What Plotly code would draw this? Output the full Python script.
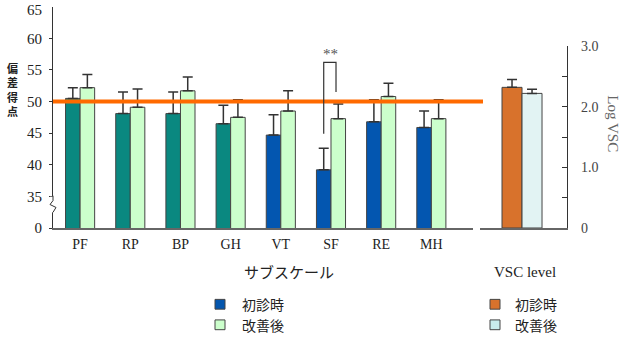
import plotly.graph_objects as go

W, H = 620, 338
ML, MR, MT, MB = 0, 0, 2, 110
PH = H - MT - MB

categories = ["PF", "RP", "BP", "GH", "VT", "SF", "RE", "MH"]
initial = [50.5, 48.1, 48.1, 46.5, 44.7, 39.2, 46.8, 45.9]
initial_err = [1.7, 3.4, 3.4, 2.9, 3.2, 3.4, 3.5, 2.6]
improved = [52.2, 49.1, 51.7, 47.5, 48.5, 47.3, 50.8, 47.3]
improved_err = [2.1, 2.9, 2.2, 2.8, 3.2, 2.3, 2.1, 3.0]
initial_colors = ["#0a8880"] * 4 + ["#0356b0"] * 4

vsc_label = ["VSC"]
vsc_initial = [2.32]
vsc_initial_err = [0.13]
vsc_improved = [2.22]
vsc_improved_err = [0.07]

left_ticks = [30, 35, 40, 45, 50, 55, 60]
left_ticktext = ["0", "35", "40", "45", "50", "55", "60"]
right_ticks = [0, 0.5, 1, 1.5, 2, 2.5, 3]
right_ticktext = ["0", "", "1.0", "", "2.0", "", "3.0"]
reference_value = 50
sig_pair = ("SF", 44.9, 56.2, 51.5)


def px(x):
    return x / W


def py(y):
    return (H - MB - y) / PH


serif = "Liberation Serif"
jp = "Noto Sans CJK JP"
edge = dict(color="#444", width=1)
errstyle = dict(color="#333", thickness=1.5, width=5)

fig = go.Figure()
fig.add_bar(x=categories, y=initial, width=0.29, offset=-0.29,
            marker=dict(color=initial_colors, line=edge),
            error_y=dict(type="data", symmetric=False, array=initial_err,
                         arrayminus=[0] * len(initial), **errstyle),
            xaxis="x", yaxis="y", showlegend=False)
fig.add_bar(x=categories, y=improved, width=0.29, offset=0,
            marker=dict(color="#ccffcc", line=edge),
            error_y=dict(type="data", symmetric=False, array=improved_err,
                         arrayminus=[0] * len(improved), **errstyle),
            xaxis="x", yaxis="y", showlegend=False)
fig.add_bar(x=vsc_label, y=vsc_initial, width=0.46, offset=-0.46,
            marker=dict(color="#d8722c", line=edge),
            error_y=dict(type="data", symmetric=False, array=vsc_initial_err,
                         arrayminus=[0], **errstyle),
            xaxis="x2", yaxis="y2", showlegend=False)
fig.add_bar(x=vsc_label, y=vsc_improved, width=0.46, offset=0,
            marker=dict(color="#e2f3f3", line=edge),
            error_y=dict(type="data", symmetric=False, array=vsc_improved_err,
                         arrayminus=[0], **errstyle),
            xaxis="x2", yaxis="y2", showlegend=False)

fig.update_layout(
    width=W, height=H, autosize=False,
    margin=dict(l=ML, r=MR, t=MT, b=MB),
    paper_bgcolor="white", plot_bgcolor="white",
    barmode="overlay",
    xaxis=dict(domain=[px(53), px(473)], range=[-0.54, 7.83], anchor="y",
               showline=True, linecolor="#666", linewidth=1.5, showgrid=False,
               zeroline=False, ticks="", ticklabelstandoff=2,
               tickfont=dict(family=serif, size=14, color="#222")),
    yaxis=dict(domain=[0, 1], range=[30, 30 + PH / 6.465], anchor="x",
               showline=True, linecolor="#333", linewidth=1, showgrid=False,
               zeroline=False, tickvals=left_ticks, ticktext=left_ticktext,
               ticks="outside", ticklen=3, tickcolor="#333", ticklabelstandoff=4,
               tickfont=dict(family=serif, size=15, color="#222")),
    xaxis2=dict(domain=[px(480), px(567)], range=[-0.966, 1.034], anchor="y2",
                showline=True, linecolor="#666", linewidth=1.5, showgrid=False,
                zeroline=False, showticklabels=False, ticks=""),
    yaxis2=dict(domain=[0, py(42)], range=[0, 3], anchor="x2", side="right",
                showline=True, linecolor="#333", linewidth=1.2, showgrid=False,
                zeroline=False, tickvals=right_ticks, ticktext=right_ticktext,
                ticks="inside", ticklen=5, tickcolor="#333", ticklabelstandoff=10,
                tickfont=dict(family=serif, size=14, color="#444")),
    font=dict(family=serif),
)

shapes = []
# reference line
shapes.append(dict(type="line", xref="paper", yref="y", x0=px(53), x1=px(483),
                   y0=reference_value, y1=reference_value,
                   line=dict(color="#ff6a00", width=4), layer="above"))
# axis break
shapes.append(dict(type="rect", xref="paper", yref="paper", x0=px(50), x1=px(56),
                   y0=py(212), y1=py(196), fillcolor="white", line=dict(width=0),
                   layer="above"))
shapes.append(dict(type="path", xref="paper", yref="paper",
                   path="M {} {} L {} {} L {} {} L {} {} L {} {}".format(
                       px(53), py(195), px(53), py(200), px(50), py(204),
                       px(56), py(207), px(53), py(212)),
                   line=dict(color="#333", width=1), layer="above"))
# significance bracket
si = categories.index(sig_pair[0])
xl, xr = si - 0.145, si + 0.10
shapes.append(dict(type="path", xref="x", yref="y",
                   path="M {} {} L {} {} L {} {} L {} {}".format(
                       xl, sig_pair[1], xl, sig_pair[2], xr, sig_pair[2], xr, sig_pair[3]),
                   line=dict(color="#333", width=1.2), layer="above"))
# legend squares
for cx, cy, col in [(220, 306, "#0456ad"), (220, 327, "#ccffcc"),
                    (495, 306, "#d8722c"), (495, 327, "#c8ecec")]:
    shapes.append(dict(type="rect", xref="paper", yref="paper",
                       x0=px(cx - 5), x1=px(cx + 5), y0=py(cy + 5), y1=py(cy - 5),
                       fillcolor=col, line=dict(color="#444", width=1)))
fig.update_layout(shapes=shapes)

ann = []


def text(x, y, s, size=14, family=jp, color="#222", xanchor="center", angle=0):
    ann.append(dict(x=px(x), y=py(y), xref="paper", yref="paper", text=s,
                    showarrow=False, xanchor=xanchor, yanchor="middle",
                    textangle=angle, font=dict(family=family, size=size, color=color)))


text(44, 5, "65", size=15, family=serif, xanchor="right")
text(12, 86, "<b>" + "<br>".join("偏差得点") + "</b>", size=11)
text(330, 50, "**", size=15, family=serif, color="#555")
text(289, 272, "サブスケール", size=15)
text(525, 273, "VSC level", size=15, family=serif)
text(613, 121, "Log VSC", size=15, family=serif, color="#666", angle=90)
text(240, 306, "初診時", size=14, xanchor="left")
text(240, 327, "改善後", size=14, xanchor="left")
text(513, 306, "初診時", size=14, xanchor="left")
text(513, 327, "改善後", size=14, xanchor="left")
fig.update_layout(annotations=ann)

fig.write_html("out.html")
